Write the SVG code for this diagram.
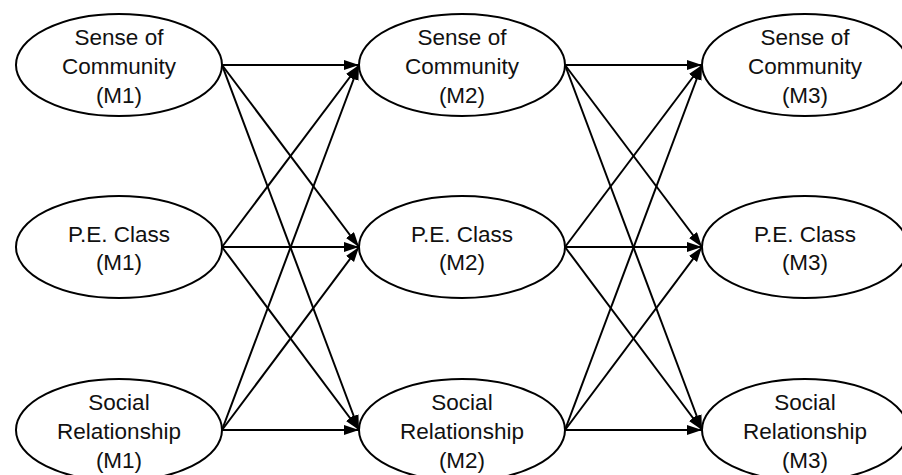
<svg xmlns="http://www.w3.org/2000/svg" width="902" height="475" viewBox="0 0 902 475">
<style>
.n ellipse{fill:#fff;stroke:#000;stroke-width:2}
.n text{font-family:"Liberation Sans",Arial,sans-serif;font-size:22.5px;text-anchor:middle;fill:#111}
.c line{stroke:#000;stroke-width:2;marker-end:url(#ah)}
</style>
<defs>
<marker id="ah" markerUnits="userSpaceOnUse" markerWidth="16" markerHeight="12" refX="15" refY="5" orient="auto">
<path d="M0,0 L15,5 L0,10 z" fill="#000"/>
</marker>
</defs>
<rect width="902" height="475" fill="#fff"/>
<g id="connectors" class="c">
<line x1="222" y1="65" x2="359" y2="65"/>
<line x1="222" y1="65" x2="359" y2="247"/>
<line x1="222" y1="65" x2="359" y2="430"/>
<line x1="222" y1="247" x2="359" y2="65"/>
<line x1="222" y1="247" x2="359" y2="247"/>
<line x1="222" y1="247" x2="359" y2="430"/>
<line x1="222" y1="430" x2="359" y2="65"/>
<line x1="222" y1="430" x2="359" y2="247"/>
<line x1="222" y1="430" x2="359" y2="430"/>
<line x1="565" y1="65" x2="702" y2="65"/>
<line x1="565" y1="65" x2="702" y2="247"/>
<line x1="565" y1="65" x2="702" y2="430"/>
<line x1="565" y1="247" x2="702" y2="65"/>
<line x1="565" y1="247" x2="702" y2="247"/>
<line x1="565" y1="247" x2="702" y2="430"/>
<line x1="565" y1="430" x2="702" y2="65"/>
<line x1="565" y1="430" x2="702" y2="247"/>
<line x1="565" y1="430" x2="702" y2="430"/>
</g>
<g id="soc1" class="n"><ellipse cx="119" cy="65" rx="103" ry="51"/><text x="119" y="45">Sense of</text><text x="119" y="74">Community</text><text x="119" y="103">(M1)</text></g>
<g id="pe1" class="n"><ellipse cx="119" cy="247" rx="103" ry="51"/><text x="119" y="242">P.E. Class</text><text x="119" y="270">(M1)</text></g>
<g id="sr1" class="n"><ellipse cx="119" cy="430" rx="103" ry="51"/><text x="119" y="410">Social</text><text x="119" y="439">Relationship</text><text x="119" y="468">(M1)</text></g>
<g id="soc2" class="n"><ellipse cx="462" cy="65" rx="103" ry="51"/><text x="462" y="45">Sense of</text><text x="462" y="74">Community</text><text x="462" y="103">(M2)</text></g>
<g id="pe2" class="n"><ellipse cx="462" cy="247" rx="103" ry="51"/><text x="462" y="242">P.E. Class</text><text x="462" y="270">(M2)</text></g>
<g id="sr2" class="n"><ellipse cx="462" cy="430" rx="103" ry="51"/><text x="462" y="410">Social</text><text x="462" y="439">Relationship</text><text x="462" y="468">(M2)</text></g>
<g id="soc3" class="n"><ellipse cx="805" cy="65" rx="103" ry="51"/><text x="805" y="45">Sense of</text><text x="805" y="74">Community</text><text x="805" y="103">(M3)</text></g>
<g id="pe3" class="n"><ellipse cx="805" cy="247" rx="103" ry="51"/><text x="805" y="242">P.E. Class</text><text x="805" y="270">(M3)</text></g>
<g id="sr3" class="n"><ellipse cx="805" cy="430" rx="103" ry="51"/><text x="805" y="410">Social</text><text x="805" y="439">Relationship</text><text x="805" y="468">(M3)</text></g>
</svg>
